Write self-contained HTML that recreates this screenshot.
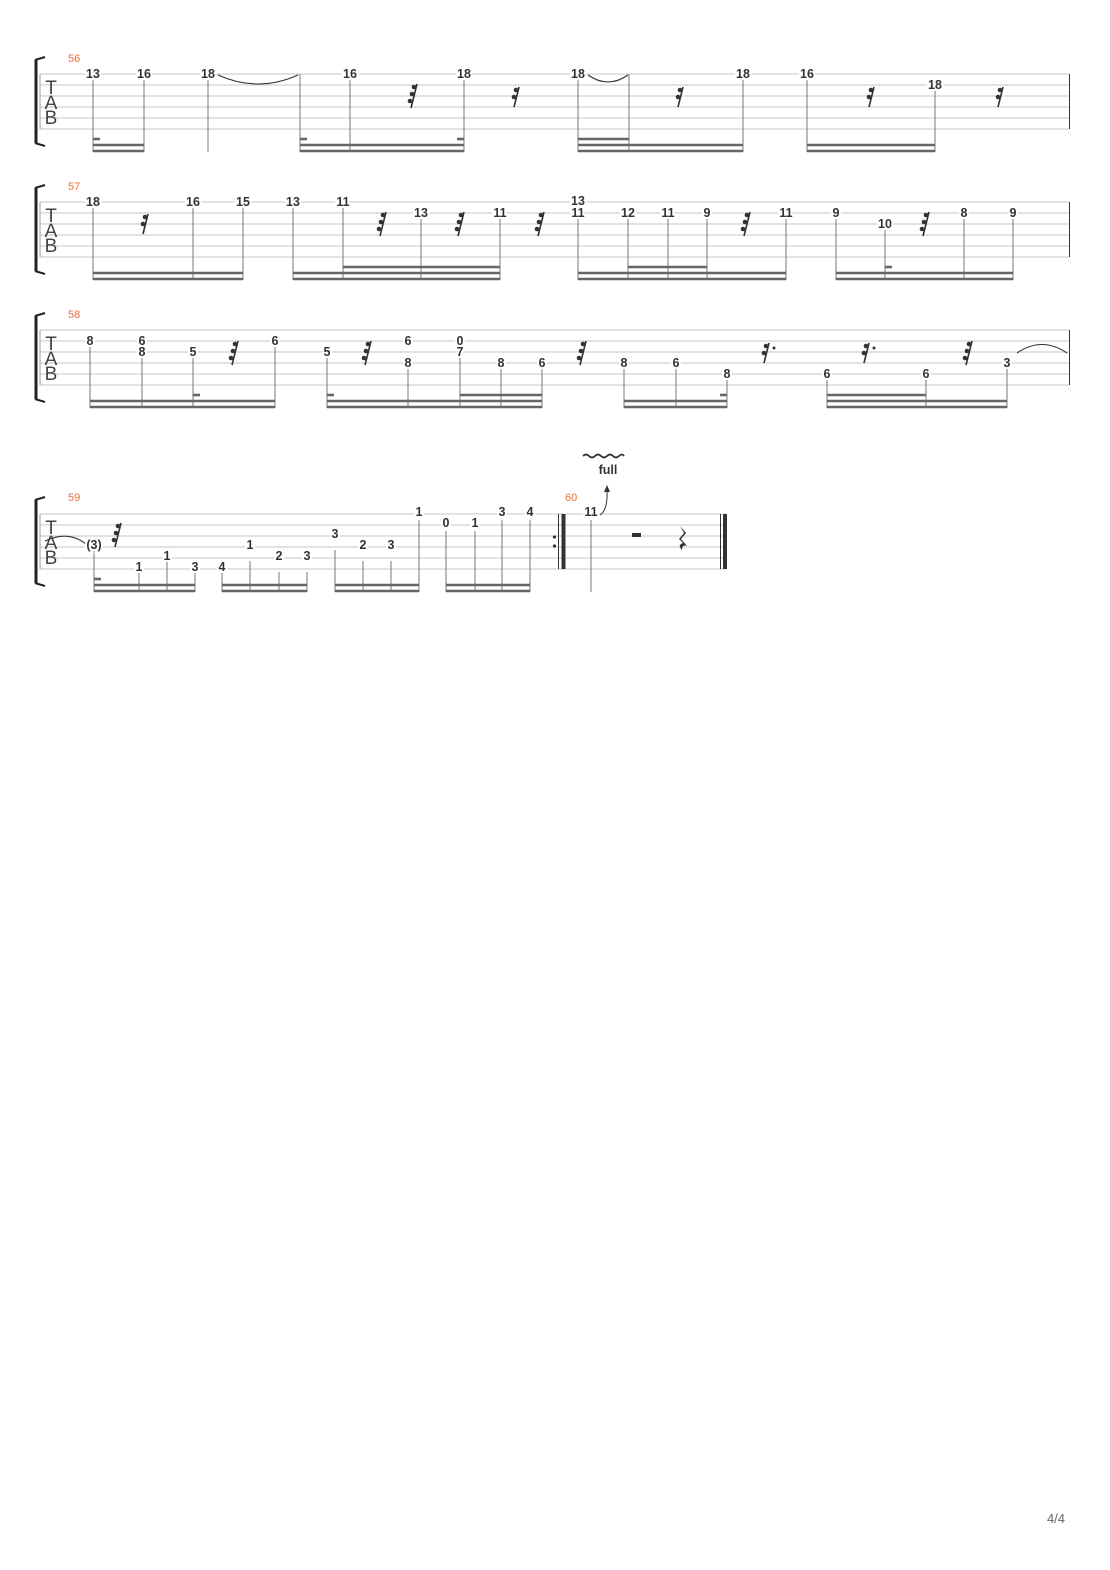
<!DOCTYPE html>
<html><head><meta charset="utf-8"><style>
body{margin:0;background:#fff;}
svg{display:block;}
.sl{stroke:#c4c4c4;stroke-width:1;}
.st{stroke:#777;stroke-width:1;}
.bm{stroke:#666;stroke-width:2.6;}
.n{font-family:"Liberation Sans",sans-serif;font-weight:bold;font-size:12.5px;fill:#333;text-anchor:middle;stroke:#fff;stroke-width:4;paint-order:stroke;}
.mn{font-family:"Liberation Sans",sans-serif;font-size:11px;fill:#f26b3a;}
.tab{font-family:"Liberation Sans",sans-serif;font-size:19px;fill:#444;text-anchor:middle;}
.tie{fill:none;stroke:#333;stroke-width:1.1;}
</style></head><body>
<svg width="1110" height="1570" viewBox="0 0 1110 1570" xmlns="http://www.w3.org/2000/svg">
<defs>
<g id="r32"><line x1="3" y1="0" x2="-3" y2="24" stroke="#333" stroke-width="1.6"/><circle cx="0" cy="3" r="2.3" fill="#333"/><circle cx="-2" cy="10" r="2.3" fill="#333"/><circle cx="-4" cy="17" r="2.3" fill="#333"/></g>
<g id="r16"><line x1="3" y1="0" x2="-2" y2="20" stroke="#333" stroke-width="1.6"/><circle cx="0" cy="3" r="2.3" fill="#333"/><circle cx="-2" cy="10" r="2.3" fill="#333"/></g>
<g id="brk"><line x1="36" y1="-14" x2="36" y2="69" stroke="#222" stroke-width="3"/><path d="M35,-14 L45,-17" stroke="#222" stroke-width="2" fill="none"/><path d="M35,69 L45,72" stroke="#222" stroke-width="2" fill="none"/><line x1="40" y1="0" x2="40" y2="55" stroke="#999" stroke-width="1"/><text class="tab" x="51" y="20">T</text><text class="tab" x="51" y="35">A</text><text class="tab" x="51" y="50">B</text></g>
</defs>

<!-- SYSTEM 1 -->
<g class="sl"><line x1="40" y1="74" x2="1069" y2="74"/><line x1="40" y1="85" x2="1069" y2="85"/><line x1="40" y1="96" x2="1069" y2="96"/><line x1="40" y1="107" x2="1069" y2="107"/><line x1="40" y1="118" x2="1069" y2="118"/><line x1="40" y1="129" x2="1069" y2="129"/></g>
<line x1="1069.5" y1="74" x2="1069.5" y2="129" stroke="#333"/>
<use href="#brk" transform="translate(0,74)"/>
<text class="mn" x="68" y="62">56</text>
<g class="st"><line x1="93" y1="80" x2="93" y2="152"/><line x1="144" y1="80" x2="144" y2="152"/><line x1="208" y1="80" x2="208" y2="152"/><line x1="300" y1="74" x2="300" y2="152"/><line x1="350" y1="80" x2="350" y2="152"/><line x1="464" y1="80" x2="464" y2="152"/><line x1="578" y1="80" x2="578" y2="152"/><line x1="629" y1="74" x2="629" y2="152"/><line x1="743" y1="80" x2="743" y2="152"/><line x1="807" y1="80" x2="807" y2="152"/><line x1="935" y1="91" x2="935" y2="152"/></g>
<g class="bm"><line x1="93" y1="145" x2="144" y2="145"/><line x1="93" y1="151" x2="144" y2="151"/><line x1="93" y1="139" x2="100" y2="139"/>
<line x1="300" y1="145" x2="464" y2="145"/><line x1="300" y1="151" x2="464" y2="151"/><line x1="300" y1="139" x2="307" y2="139"/><line x1="457" y1="139" x2="464" y2="139"/>
<line x1="578" y1="145" x2="743" y2="145"/><line x1="578" y1="151" x2="743" y2="151"/><line x1="578" y1="139" x2="629" y2="139"/>
<line x1="807" y1="145" x2="935" y2="145"/><line x1="807" y1="151" x2="935" y2="151"/></g>
<path class="tie" d="M218,75 Q258,93 298,75"/><path class="tie" d="M588,75 Q608,89 628,75"/>
<g class="n"><text x="93" y="78">13</text><text x="144" y="78">16</text><text x="208" y="78">18</text><text x="350" y="78">16</text><text x="464" y="78">18</text><text x="578" y="78">18</text><text x="743" y="78">18</text><text x="807" y="78">16</text><text x="935" y="89">18</text></g>
<use href="#r32" transform="translate(414,84)"/><use href="#r16" transform="translate(516,87)"/><use href="#r16" transform="translate(680,87)"/><use href="#r16" transform="translate(871,87)"/><use href="#r16" transform="translate(1000,87)"/>

<!-- SYSTEM 2 -->
<g class="sl"><line x1="40" y1="202" x2="1069" y2="202"/><line x1="40" y1="213" x2="1069" y2="213"/><line x1="40" y1="224" x2="1069" y2="224"/><line x1="40" y1="235" x2="1069" y2="235"/><line x1="40" y1="246" x2="1069" y2="246"/><line x1="40" y1="257" x2="1069" y2="257"/></g>
<line x1="1069.5" y1="202" x2="1069.5" y2="257" stroke="#333"/>
<use href="#brk" transform="translate(0,202)"/>
<text class="mn" x="68" y="190">57</text>
<g class="st"><line x1="93" y1="208" x2="93" y2="280"/><line x1="193" y1="208" x2="193" y2="280"/><line x1="243" y1="208" x2="243" y2="280"/><line x1="293" y1="208" x2="293" y2="280"/><line x1="343" y1="208" x2="343" y2="280"/><line x1="421" y1="219" x2="421" y2="280"/><line x1="500" y1="219" x2="500" y2="280"/><line x1="578" y1="219" x2="578" y2="280"/><line x1="628" y1="219" x2="628" y2="280"/><line x1="668" y1="219" x2="668" y2="280"/><line x1="707" y1="219" x2="707" y2="280"/><line x1="786" y1="219" x2="786" y2="280"/><line x1="836" y1="219" x2="836" y2="280"/><line x1="885" y1="230" x2="885" y2="280"/><line x1="964" y1="219" x2="964" y2="280"/><line x1="1013" y1="219" x2="1013" y2="280"/></g>
<g class="bm"><line x1="93" y1="273" x2="243" y2="273"/><line x1="93" y1="279" x2="243" y2="279"/>
<line x1="293" y1="273" x2="500" y2="273"/><line x1="293" y1="279" x2="500" y2="279"/><line x1="343" y1="267" x2="500" y2="267"/>
<line x1="578" y1="273" x2="786" y2="273"/><line x1="578" y1="279" x2="786" y2="279"/><line x1="628" y1="267" x2="707" y2="267"/>
<line x1="836" y1="273" x2="1013" y2="273"/><line x1="836" y1="279" x2="1013" y2="279"/><line x1="885" y1="267" x2="892" y2="267"/></g>
<g class="n"><text x="93" y="206">18</text><text x="193" y="206">16</text><text x="243" y="206">15</text><text x="293" y="206">13</text><text x="343" y="206">11</text><text x="421" y="217">13</text><text x="500" y="217">11</text><text x="578" y="205">13</text><text x="578" y="217">11</text><text x="628" y="217">12</text><text x="668" y="217">11</text><text x="707" y="217">9</text><text x="786" y="217">11</text><text x="836" y="217">9</text><text x="885" y="228">10</text><text x="964" y="217">8</text><text x="1013" y="217">9</text></g>
<use href="#r16" transform="translate(145,214)"/><use href="#r32" transform="translate(383,212)"/><use href="#r32" transform="translate(461,212)"/><use href="#r32" transform="translate(541,212)"/><use href="#r32" transform="translate(747,212)"/><use href="#r32" transform="translate(926,212)"/>

<!-- SYSTEM 3 -->
<g class="sl"><line x1="40" y1="330" x2="1069" y2="330"/><line x1="40" y1="341" x2="1069" y2="341"/><line x1="40" y1="352" x2="1069" y2="352"/><line x1="40" y1="363" x2="1069" y2="363"/><line x1="40" y1="374" x2="1069" y2="374"/><line x1="40" y1="385" x2="1069" y2="385"/></g>
<line x1="1069.5" y1="330" x2="1069.5" y2="385" stroke="#333"/>
<use href="#brk" transform="translate(0,330)"/>
<text class="mn" x="68" y="318">58</text>
<g class="st"><line x1="90" y1="347" x2="90" y2="408"/><line x1="142" y1="358" x2="142" y2="408"/><line x1="193" y1="358" x2="193" y2="408"/><line x1="275" y1="347" x2="275" y2="408"/><line x1="327" y1="358" x2="327" y2="408"/><line x1="408" y1="369" x2="408" y2="408"/><line x1="460" y1="358" x2="460" y2="408"/><line x1="501" y1="369" x2="501" y2="408"/><line x1="542" y1="369" x2="542" y2="408"/><line x1="624" y1="369" x2="624" y2="408"/><line x1="676" y1="369" x2="676" y2="408"/><line x1="727" y1="380" x2="727" y2="408"/><line x1="827" y1="380" x2="827" y2="408"/><line x1="926" y1="380" x2="926" y2="408"/><line x1="1007" y1="369" x2="1007" y2="408"/></g>
<g class="bm"><line x1="90" y1="401" x2="275" y2="401"/><line x1="90" y1="407" x2="275" y2="407"/><line x1="193" y1="395" x2="200" y2="395"/>
<line x1="327" y1="401" x2="542" y2="401"/><line x1="327" y1="407" x2="542" y2="407"/><line x1="327" y1="395" x2="334" y2="395"/><line x1="460" y1="395" x2="542" y2="395"/>
<line x1="624" y1="401" x2="727" y2="401"/><line x1="624" y1="407" x2="727" y2="407"/><line x1="720" y1="395" x2="727" y2="395"/>
<line x1="827" y1="401" x2="1007" y2="401"/><line x1="827" y1="407" x2="1007" y2="407"/><line x1="827" y1="395" x2="926" y2="395"/></g>
<path class="tie" d="M1017,353 Q1042,336 1067,353"/>
<g class="n"><text x="90" y="345">8</text><text x="142" y="345">6</text><text x="142" y="356">8</text><text x="193" y="356">5</text><text x="275" y="345">6</text><text x="327" y="356">5</text><text x="408" y="345">6</text><text x="408" y="367">8</text><text x="460" y="345">0</text><text x="460" y="356">7</text><text x="501" y="367">8</text><text x="542" y="367">6</text><text x="624" y="367">8</text><text x="676" y="367">6</text><text x="727" y="378">8</text><text x="827" y="378">6</text><text x="926" y="378">6</text><text x="1007" y="367">3</text></g>
<use href="#r32" transform="translate(235,341)"/><use href="#r32" transform="translate(368,341)"/><use href="#r32" transform="translate(583,341)"/>
<use href="#r16" transform="translate(766,343)"/><circle cx="774" cy="348" r="1.5" fill="#333"/>
<use href="#r16" transform="translate(866,343)"/><circle cx="874" cy="348" r="1.5" fill="#333"/>
<use href="#r32" transform="translate(969,341)"/>

<!-- SYSTEM 4 -->
<g class="sl"><line x1="40" y1="514" x2="726" y2="514"/><line x1="40" y1="525" x2="726" y2="525"/><line x1="40" y1="536" x2="726" y2="536"/><line x1="40" y1="547" x2="726" y2="547"/><line x1="40" y1="558" x2="726" y2="558"/><line x1="40" y1="569" x2="726" y2="569"/></g>
<use href="#brk" transform="translate(0,514)"/>
<text class="mn" x="68" y="501">59</text>
<text class="mn" x="565" y="501">60</text>
<path class="tie" d="M45,541 Q68,530 86,544"/>
<g class="st"><line x1="94" y1="550" x2="94" y2="592"/><line x1="139" y1="572" x2="139" y2="592"/><line x1="167" y1="561" x2="167" y2="592"/><line x1="195" y1="572" x2="195" y2="592"/><line x1="222" y1="572" x2="222" y2="592"/><line x1="250" y1="561" x2="250" y2="592"/><line x1="279" y1="572" x2="279" y2="592"/><line x1="307" y1="572" x2="307" y2="592"/><line x1="335" y1="550" x2="335" y2="592"/><line x1="363" y1="561" x2="363" y2="592"/><line x1="391" y1="561" x2="391" y2="592"/><line x1="419" y1="520" x2="419" y2="592"/><line x1="446" y1="531" x2="446" y2="592"/><line x1="475" y1="531" x2="475" y2="592"/><line x1="502" y1="520" x2="502" y2="592"/><line x1="530" y1="520" x2="530" y2="592"/><line x1="591" y1="520" x2="591" y2="592"/></g>
<g class="bm"><line x1="94" y1="585" x2="195" y2="585"/><line x1="94" y1="591" x2="195" y2="591"/><line x1="94" y1="579" x2="101" y2="579"/>
<line x1="222" y1="585" x2="307" y2="585"/><line x1="222" y1="591" x2="307" y2="591"/>
<line x1="335" y1="585" x2="419" y2="585"/><line x1="335" y1="591" x2="419" y2="591"/>
<line x1="446" y1="585" x2="530" y2="585"/><line x1="446" y1="591" x2="530" y2="591"/></g>
<g class="n"><text x="94" y="549">(3)</text><text x="139" y="571">1</text><text x="167" y="560">1</text><text x="195" y="571">3</text><text x="222" y="571">4</text><text x="250" y="549">1</text><text x="279" y="560">2</text><text x="307" y="560">3</text><text x="335" y="538">3</text><text x="363" y="549">2</text><text x="391" y="549">3</text><text x="419" y="516">1</text><text x="446" y="527">0</text><text x="475" y="527">1</text><text x="502" y="516">3</text><text x="530" y="516">4</text><text x="591" y="516">11</text></g>
<use href="#r32" transform="translate(118,523)"/>
<!-- repeat barline -->
<circle cx="554.5" cy="537" r="1.6" fill="#333"/><circle cx="554.5" cy="546" r="1.6" fill="#333"/>
<line x1="558.5" y1="514" x2="558.5" y2="569" stroke="#333" stroke-width="1"/>
<rect x="561.5" y="514" width="4" height="55" fill="#333"/>
<!-- bend -->
<path d="M600,515 Q608,510 607,490" fill="none" stroke="#333" stroke-width="1"/>
<path d="M604,492 L607,485 L610,492 Z" fill="#333"/>
<text x="608" y="474" style="font-family:'Liberation Sans',sans-serif;font-weight:bold;font-size:12.5px;fill:#333;text-anchor:middle">full</text>
<path d="M583,456 q3,-3 6,0 t6,0 t6,0 t6,0 t6,0 t6,0 t5,0" fill="none" stroke="#333" stroke-width="1.8"/>
<!-- rests -->
<rect x="632" y="533" width="9" height="4" fill="#333"/>
<path d="M680,526 L686,533 L681,539 L687,546 Q682,544 682,550 Q677,545 683,543 L679,539 L684,533 Z" fill="#333"/>
<!-- final barline -->
<line x1="720.5" y1="514" x2="720.5" y2="569" stroke="#333" stroke-width="1"/>
<rect x="723" y="514" width="4" height="55" fill="#333"/>

<text x="1056" y="1523" style="font-family:'Liberation Sans',sans-serif;font-size:13px;fill:#666;text-anchor:middle">4/4</text>
</svg>
</body></html>
